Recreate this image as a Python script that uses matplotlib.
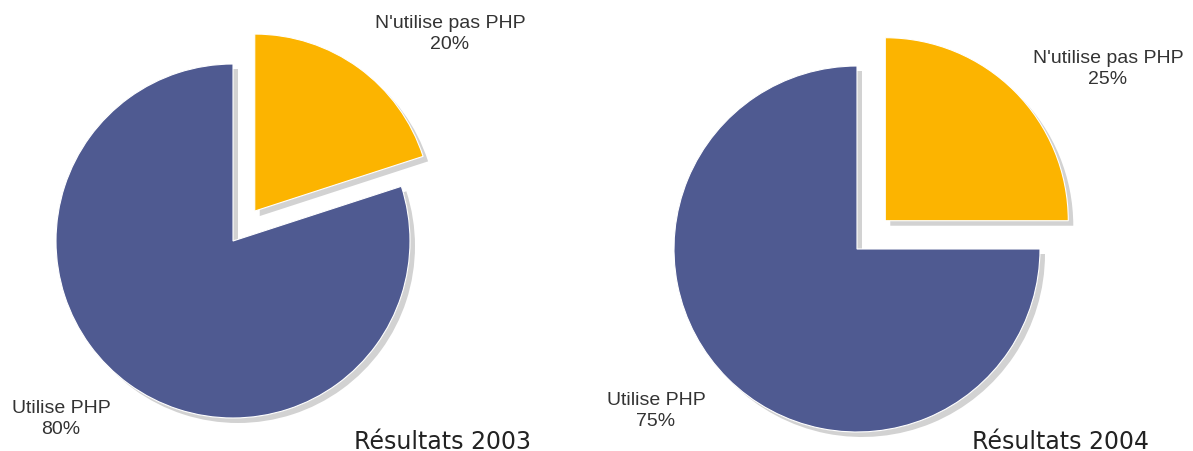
import matplotlib.pyplot as plt

# data
labels = ["Utilise PHP", "N'utilise pas PHP"]
values_2003 = [80, 20]
values_2004 = [75, 25]
titles = ["Résultats 2003", "Résultats 2004"]

blue = "#4f5a91"
yellow = "#fcb400"
shadow = "#d2d2d2"

fig = plt.figure(figsize=(11.93, 4.52), dpi=100)
ax = fig.add_axes([0, 0, 1, 1])

H = 452


def draw_pie(values, cx, cy, r, expl):
    # yellow slice first, clockwise from the top
    vals = [values[1], values[0]]
    explode = [expl, 0]
    ax.pie(vals, center=(cx + 5, H - cy - 5), radius=r, startangle=90,
           counterclock=False, explode=explode, colors=[shadow, shadow],
           wedgeprops=dict(linewidth=0))
    ax.pie(vals, center=(cx, H - cy), radius=r, startangle=90,
           counterclock=False, explode=explode, colors=[yellow, blue],
           wedgeprops=dict(edgecolor="white", linewidth=0.8))


draw_pie(values_2003, 233, 242, 177, 37)
draw_pie(values_2004, 857, 250, 183, 40)

lab_font = dict(family="Liberation Sans", fontsize=14, color="#333333",
                ha="center", va="center", linespacing=1.25)

ax.text(450, H - 34, f"{labels[1]}\n{values_2003[1]}%", **lab_font)
ax.text(61, H - 419, f"{labels[0]}\n{values_2003[0]}%", **lab_font)
ax.text(1108, H - 69, f"{labels[1]}\n{values_2004[1]}%", **lab_font)
ax.text(656, H - 411, f"{labels[0]}\n{values_2004[0]}%", **lab_font)

ax.text(442, H - 442, titles[0], family="DejaVu Sans", fontsize=17,
        color="#222222", ha="center", va="center")
ax.text(1060, H - 442, titles[1], family="DejaVu Sans", fontsize=17,
        color="#222222", ha="center", va="center")

ax.set_xlim(0, 1193)
ax.set_ylim(0, H)
ax.set_aspect("equal")
ax.axis("off")

fig.savefig("out.png", dpi=100)
